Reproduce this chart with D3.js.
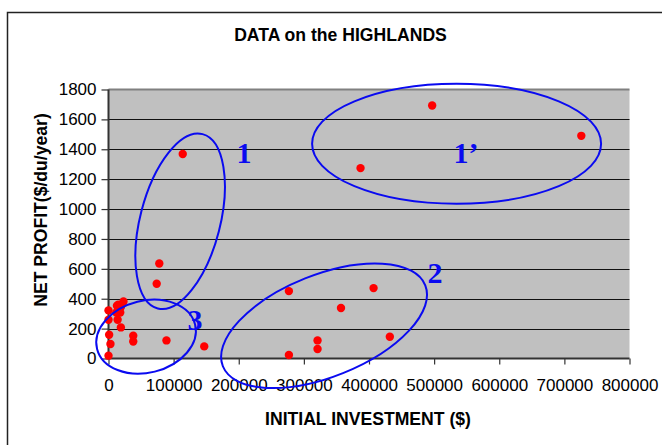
<!DOCTYPE html>
<html>
<head>
<meta charset="utf-8">
<script src="https://cdn.jsdelivr.net/npm/d3@7"></script>
<style>
  html, body { margin: 0; padding: 0; background: #fff; }
  svg { display: block; }
  text { font-family: "Liberation Sans", Arial, sans-serif; fill: #000; }
</style>
</head>
<body>
<script>
// Initial investment ($) and net profit ($/du/year) of each site
const investment = [
  497000, 726000, 387000,
  114000, 78000, 74000,
  277000, 407000, 357000, 432000, 321000, 321000, 277000,
  23000, 15000, 13000, 19000, 18000, 12000, 0, 14000, 0, 19000,
  1000, 3000, 0, 38000, 38000, 89000, 147000
];
const profit = [
  1693, 1490, 1274,
  1368, 636, 500,
  451, 471, 338, 146, 121, 64, 23,
  382, 360, 353, 344, 308, 308, 322, 259, 259, 208,
  159, 97, 19, 152, 114, 121, 81
];

const xTicks = [0, 100000, 200000, 300000, 400000, 500000, 600000, 700000, 800000];
const yTicks = [0, 200, 400, 600, 800, 1000, 1200, 1400, 1600, 1800];

// Grouping rings: centre in data units, semi-axes in px, tilt in degrees
const groupNames = ["1", "1\u2019", "2", "3"];
const ringCx     = [110000, 534500, 331000, 57700];
const ringCy     = [918, 1437, 219, 146];
const ringRx     = [90, 144.5, 109, 50.5];
const ringRy     = [40, 60, 51, 36];
const ringTilt   = [-75.6, 0, -21.8, -14];
const labelX     = [208000, 548800, 501500, 133000];
const labelY     = [1310, 1310, 507, 193];

const W = 662, H = 445;
const plot = { left: 108.5, top: 89.5, right: 629.5, bottom: 358.5 };

const svg = d3.select("body").append("svg")
  .attr("width", W).attr("height", H);

// Chart frame
svg.append("rect")
  .attr("x", 7.5).attr("y", 12.5)
  .attr("width", 720).attr("height", 460)
  .attr("fill", "#fff").attr("stroke", "#222").attr("stroke-width", 1.5);

const x = d3.scaleLinear().domain([0, 800000]).range([plot.left, plot.right]);
const y = d3.scaleLinear().domain([0, 1800]).range([plot.bottom, plot.top]);

// Plot background
svg.append("rect")
  .attr("x", plot.left).attr("y", plot.top)
  .attr("width", plot.right - plot.left).attr("height", plot.bottom - plot.top)
  .attr("fill", "#c0c0c0");

// Horizontal gridlines
svg.append("g")
  .selectAll("line")
  .data(yTicks.filter(v => v > 0 && v < 1800))
  .join("line")
  .attr("x1", plot.left).attr("x2", plot.right)
  .attr("y1", d => Math.round(y(d)) + 0.5).attr("y2", d => Math.round(y(d)) + 0.5)
  .attr("stroke", "#111").attr("stroke-width", 1.2);

// Top edge of plot area
svg.append("line")
  .attr("x1", plot.left).attr("x2", plot.right)
  .attr("y1", plot.top).attr("y2", plot.top)
  .attr("stroke", "#808080").attr("stroke-width", 2);

// Axes
const yAxis = d3.axisLeft(y).tickValues(yTicks).tickSize(7).tickPadding(5)
  .tickFormat(d3.format("d"));
const gy = svg.append("g").attr("transform", `translate(${plot.left},0)`).call(yAxis);

const xAxis = d3.axisBottom(x).tickValues(xTicks).tickSize(6).tickPadding(14)
  .tickFormat(d3.format("d"));
const gx = svg.append("g").attr("transform", `translate(0,${plot.bottom})`).call(xAxis);

[gx, gy].forEach(g => {
  g.select(".domain").attr("stroke", "#333").attr("stroke-width", 2);
  g.selectAll(".tick line").attr("stroke", "#333").attr("stroke-width", 1.2);
  g.selectAll(".tick text")
    .attr("font-family", "'Liberation Sans', Arial, sans-serif")
    .attr("font-size", 17).attr("fill", "#000");
});
gy.select(".domain").attr("d", `M0,${plot.top}V${plot.bottom}`);
gx.select(".domain").attr("d", `M${plot.left},0H${plot.right}`);

// Data points
svg.append("g")
  .selectAll("circle")
  .data(investment.map((v, i) => [v, profit[i]]))
  .join("circle")
  .attr("cx", d => x(d[0]))
  .attr("cy", d => y(d[1]))
  .attr("r", 4.2)
  .attr("fill", "#ff0000");

// Grouping rings and their labels
const rings = svg.append("g");
groupNames.forEach((name, i) => {
  rings.append("ellipse")
    .attr("transform", `translate(${x(ringCx[i])},${y(ringCy[i])}) rotate(${ringTilt[i]})`)
    .attr("rx", ringRx[i]).attr("ry", ringRy[i])
    .attr("fill", "none").attr("stroke", "#0a0af0").attr("stroke-width", 2);
  rings.append("text")
    .attr("x", x(labelX[i])).attr("y", y(labelY[i]))
    .attr("text-anchor", "middle")
    .style("font-family", "'Liberation Serif', 'Times New Roman', serif")
    .style("font-weight", "bold").style("font-size", "30px")
    .style("fill", "#0a0af0")
    .text(name);
});

// Titles
svg.append("text")
  .attr("x", 340.5).attr("y", 41)
  .attr("text-anchor", "middle")
  .attr("font-weight", "bold").attr("font-size", 17.6)
  .text("DATA on the HIGHLANDS");

svg.append("text")
  .attr("x", 368).attr("y", 425)
  .attr("text-anchor", "middle")
  .attr("font-weight", "bold").attr("font-size", 17.6)
  .text("INITIAL INVESTMENT ($)");

svg.append("text")
  .attr("transform", "translate(46.5,210) rotate(-90)")
  .attr("text-anchor", "middle")
  .attr("font-weight", "bold").attr("font-size", 17.6)
  .text("NET PROFIT($/du/year)");
</script>
</body>
</html>
